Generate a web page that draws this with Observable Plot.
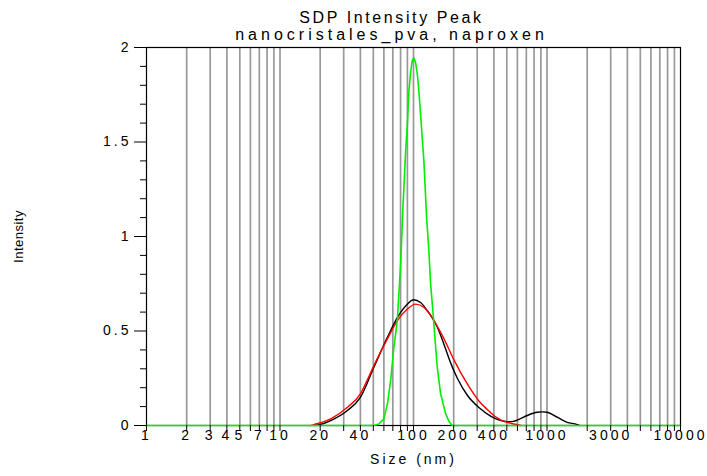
<!DOCTYPE html>
<html><head><meta charset="utf-8">
<script src="https://cdn.jsdelivr.net/npm/d3@7"></script>
<script src="https://cdn.jsdelivr.net/npm/@observablehq/plot@0.6"></script>
<style>
body{margin:0;background:#fff}
#chart svg{font-family:"Liberation Sans",Arial,sans-serif;background:#fff}
</style>
</head><body><div id="chart"></div>
<script>
const titleText = "SDP Intensity Peak";
const subtitleText = "nanocristales_pva, naproxen";
const xLabel = "Size (nm)";
const yLabel = "Intensity";
const xTickLabels = [1,2,3,4,5,7,10,20,40,100,200,400,1000,3000,10000];
const xAllTicks = [1,2,3,4,5,6,7,8,9,10,20,30,40,50,60,70,80,90,100,200,300,400,500,600,700,800,900,1000,2000,3000,4000,5000,6000,7000,8000,9000,10000];
const gridValues = [2,3,4,5,6,7,8,9,10,20,30,40,50,60,70,80,90,100,200,300,400,500,600,700,800,900,1000,2000,3000,4000,5000,6000,7000,8000,9000];
const yTickLabels = [0,0.5,1,1.5,2];
const yMinorTicks = [0.1,0.2,0.3,0.4,0.6,0.7,0.8,0.9,1.1,1.2,1.3,1.4,1.6,1.7,1.8,1.9];

const blackSize = [18,20,24,32,40,50.5,63.7,75.6,89.9,100,113,127,138,151,169,190,213,253,309,378,440,504,560,598,711,845,920,1003,1192,1416,1683,1750];
const blackIntensity = [0,0.005,0.026,0.079,0.149,0.308,0.466,0.571,0.642,0.665,0.651,0.607,0.571,0.52,0.43,0.33,0.25,0.16,0.095,0.05,0.028,0.02,0.022,0.028,0.053,0.07,0.072,0.07,0.044,0.017,0.005,0];

const redSize = [17,18,24,32,40,45,50.5,63.7,75.6,89.9,104,120,138,169,200,253,309,357,400,449,504,564,615,640];
const redIntensity = [0,0.005,0.035,0.097,0.167,0.24,0.317,0.458,0.554,0.616,0.642,0.624,0.57,0.46,0.35,0.22,0.13,0.085,0.053,0.03,0.017,0.008,0.003,0];

const greenSize = [1,50.5,55,60,64,67.4,71.3,75.6,80.1,83.3,87.3,89.9,92.4,95.1,97.9,100.7,103.7,106.8,109.7,113,119.6,125.4,130.4,134.3,139.7,144.6,150.7,159.5,173.9,185,195,10000];
const greenIntensity = [0,0,0.008,0.035,0.12,0.237,0.413,0.554,0.853,1.15,1.45,1.59,1.77,1.87,1.93,1.945,1.92,1.86,1.77,1.646,1.4,1.1,0.923,0.749,0.607,0.466,0.308,0.169,0.063,0.02,0,0];

const toRows = (s, v) => s.map((d, i) => ({size: d, intensity: v[i]}));
const black = toRows(blackSize, blackIntensity);
const red = toRows(redSize, redIntensity);
const green = toRows(greenSize, greenIntensity);

const chart = Plot.plot({
  width: 707,
  height: 476,
  marginLeft: 146,
  marginRight: 27,
  marginTop: 47,
  marginBottom: 51,
  style: {fontSize: "14px", fontFamily: "'Liberation Sans', Arial, sans-serif", color: "#000"},
  x: {type: "log", domain: [1, 10000]},
  y: {domain: [0, 2]},
  marks: [
    Plot.gridX(gridValues, {stroke: "#999999", strokeOpacity: 1, strokeWidth: 1.7}),
    Plot.frame({stroke: "#000", strokeWidth: 1.2}),
    Plot.line(black, {x: "size", y: "intensity", stroke: "#000", strokeWidth: 1.4, curve: "monotone-x"}),
    Plot.line(red, {x: "size", y: "intensity", stroke: "#ff0000", strokeWidth: 1.4, curve: "monotone-x"}),
    Plot.line(green, {x: "size", y: "intensity", stroke: "#00ee00", strokeWidth: 1.6, curve: "linear"}),
    Plot.axisX({ticks: xAllTicks, tickSize: 6, tickFormat: () => "", label: null, stroke: "#000"}),
    Plot.text(xTickLabels, {x: d => d, text: d => String(d), frameAnchor: "bottom", dy: 14, fontSize: 14}),
    Plot.axisY({ticks: yTickLabels, tickSize: 12, tickPadding: 3, tickFormat: d => String(d), label: null, fontSize: 14}),
    Plot.axisY({ticks: yMinorTicks, tickSize: 6, tickFormat: () => "", label: null}),
    Plot.text([titleText], {frameAnchor: "top", dx: -22, dy: -25, fontSize: 16, lineAnchor: "bottom"}),
    Plot.text([subtitleText], {frameAnchor: "top", dx: -22, dy: -8, fontSize: 16, lineAnchor: "bottom"}),
    Plot.text([xLabel], {frameAnchor: "bottom", dy: 38, fontSize: 14}),
    Plot.text([yLabel], {frameAnchor: "left", textAnchor: "middle", dx: -128, dy: 0, rotate: -90, fontSize: 13})
  ]
});
document.getElementById("chart").appendChild(chart);
const sel = d3.select(chart).selectAll("text");
sel.attr("letter-spacing", "3px");
sel.filter(function(){ return this.textContent === titleText; }).attr("letter-spacing", "2.6px");
sel.filter(function(){ return this.textContent === subtitleText; }).attr("letter-spacing", "4px");
sel.filter(function(){ return this.textContent === yLabel; }).attr("letter-spacing", "0.5px");
</script>
</body></html>
